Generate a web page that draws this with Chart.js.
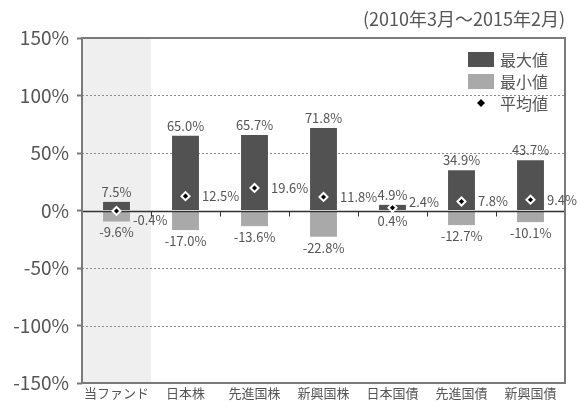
<!DOCTYPE html>
<html>
<head>
<meta charset="utf-8">
<script src="https://cdn.jsdelivr.net/npm/chart.js@4"></script>
<style>
  html, body { margin: 0; padding: 0; background: #fff; }
  #wrap { width: 581px; height: 410px; }
</style>
</head>
<body>
<div id="wrap"><canvas id="chart" width="581" height="410"></canvas></div>
<script>
const categories = ['当ファンド', '日本株', '先進国株', '新興国株', '日本国債', '先進国債', '新興国債'];
const maxValues = [7.5, 65.0, 65.7, 71.8, 4.9, 34.9, 43.7];
const minValues = [-9.6, -17.0, -13.6, -22.8, 0.4, -12.7, -10.1];
const avgValues = [-0.4, 12.5, 19.6, 11.8, 2.4, 7.8, 9.4];
const yTicks = [-150, -100, -50, 0, 50, 100, 150];
const seriesNames = ['最大値', '最小値', '平均値'];
const period = '(2010年3月～2015年2月)';

const FONT = '"Noto Sans CJK JP", "Noto Sans", sans-serif';
const DARK = '#525252';
const LIGHT = '#a9a9a9';
const TEXT = '#555';

const pct = v => v.toFixed(1) + '%';

const decor = {
  id: 'decor',
  beforeDatasetsDraw(chart) {
    const { ctx, chartArea: a, scales: { x, y } } = chart;
    const half = (x.getPixelForValue(1) - x.getPixelForValue(0)) / 2;
    ctx.save();
    // highlight for the fund column
    ctx.fillStyle = '#efefef';
    ctx.fillRect(a.left, a.top, x.getPixelForValue(0) + half - a.left, a.height);
    // dotted grid
    ctx.strokeStyle = '#8a8a8a';
    ctx.lineWidth = 1;
    ctx.setLineDash([2, 2]);
    yTicks.forEach(v => {
      if (v === 0 || v === yTicks[0] || v === yTicks[yTicks.length - 1]) return;
      const py = Math.round(y.getPixelForValue(v)) + 0.5;
      ctx.beginPath();
      ctx.moveTo(a.left, py);
      ctx.lineTo(a.right, py);
      ctx.stroke();
    });
    ctx.restore();
  },
  afterDatasetDraw(chart, args) {
    if (args.index !== 1) return;
    const { ctx, chartArea: a, scales: { x, y } } = chart;
    const zy = Math.round(y.getPixelForValue(0)) + 0.5;
    ctx.save();
    ctx.strokeStyle = '#333';
    ctx.lineWidth = 1.5;
    ctx.beginPath();
    ctx.moveTo(a.left, zy);
    ctx.lineTo(a.right, zy);
    ctx.stroke();
    // category ticks on the zero line
    ctx.lineWidth = 1;
    for (let i = 0; i < categories.length - 1; i++) {
      const bx = Math.round((x.getPixelForValue(i) + x.getPixelForValue(i + 1)) / 2) + 0.5;
      ctx.beginPath();
      ctx.moveTo(bx, zy);
      ctx.lineTo(bx, zy + 5);
      ctx.stroke();
    }
    ctx.restore();
  },
  afterDraw(chart) {
    const { ctx, chartArea: a, scales: { x, y } } = chart;
    ctx.save();
    // frame
    ctx.strokeStyle = '#7a7a7a';
    ctx.lineWidth = 2;
    ctx.strokeRect(a.left, a.top, a.right - a.left, a.bottom - a.top);

    // value labels
    const zero = y.getPixelForValue(0);
    const barMeta = chart.getDatasetMeta(0);
    ctx.fillStyle = TEXT;
    ctx.font = '13px ' + FONT;
    ctx.textBaseline = 'middle';
    categories.forEach((c, i) => {
      const bar = barMeta.data[i];
      const cx = x.getPixelForValue(i);
      const right = cx + bar.width / 2;
      ctx.textAlign = 'center';
      ctx.fillText(pct(maxValues[i]), cx, y.getPixelForValue(maxValues[i]) - 10);
      const minY = Math.max(zero, y.getPixelForValue(minValues[i]));
      ctx.fillText(pct(minValues[i]), cx, minY + 11);
      let my = y.getPixelForValue(avgValues[i]);
      my = avgValues[i] >= 0 ? Math.min(my, zero - 8) : Math.max(my, zero + 10);
      ctx.textAlign = 'left';
      ctx.fillText(pct(avgValues[i]), right + 3, my);
    });

    // period note
    ctx.font = '18px ' + FONT;
    ctx.textAlign = 'right';
    ctx.textBaseline = 'middle';
    ctx.fillText(period, a.right, 19);

    // legend
    const lx = 468, ly = 52, row = 22;
    ctx.font = '16px ' + FONT;
    ctx.textAlign = 'left';
    [DARK, LIGHT].forEach((col, k) => {
      ctx.fillStyle = col;
      ctx.fillRect(lx, ly + k * row, 26, 15);
    });
    ctx.fillStyle = '#000';
    ctx.beginPath();
    const dx = lx + 13, dy = ly + 2 * row + 7;
    ctx.moveTo(dx, dy - 4); ctx.lineTo(dx + 4, dy); ctx.lineTo(dx, dy + 4); ctx.lineTo(dx - 4, dy);
    ctx.closePath();
    ctx.fill();
    ctx.fillStyle = TEXT;
    seriesNames.forEach((n, k) => ctx.fillText(n, lx + 32, ly + k * row + 8));
    ctx.restore();
  }
};

new Chart(document.getElementById('chart'), {
  type: 'bar',
  data: {
    labels: categories,
    datasets: [
      { label: seriesNames[0], data: maxValues, backgroundColor: DARK, order: 2, grouped: false,
        barPercentage: 0.39, categoryPercentage: 1 },
      { label: seriesNames[1], data: minValues, backgroundColor: LIGHT, order: 1, grouped: false,
        barPercentage: 0.39, categoryPercentage: 1 },
      { type: 'line', label: seriesNames[2], data: avgValues, showLine: false, order: 0,
        pointStyle: 'rectRot', pointRadius: 4, pointBackgroundColor: '#000',
        pointBorderColor: '#fff', pointBorderWidth: 2 }
    ]
  },
  options: {
    responsive: false,
    animation: false,
    layout: { padding: { top: 38, right: 16, left: 0, bottom: 0 } },
    plugins: { legend: { display: false }, tooltip: { enabled: false } },
    scales: {
      x: {
        grid: { display: false, drawTicks: false, tickLength: 0 },
        border: { display: false },
        ticks: { color: TEXT, font: { family: FONT, size: 13 }, padding: 2, maxRotation: 0, autoSkip: false },
        afterFit(s) { s.height = 27; }
      },
      y: {
        min: -150, max: 150,
        afterBuildTicks(s) { s.ticks = yTicks.map(v => ({ value: v })); },
        grid: { drawOnChartArea: false, tickLength: 5, tickColor: '#7a7a7a', tickWidth: 2 },
        border: { display: false },
        ticks: { color: TEXT, font: { family: FONT, size: 19 }, padding: 8, callback: v => v + '%' },
        afterFit(s) { s.width = 82; }
      }
    }
  },
  plugins: [decor]
});
</script>
</body>
</html>
